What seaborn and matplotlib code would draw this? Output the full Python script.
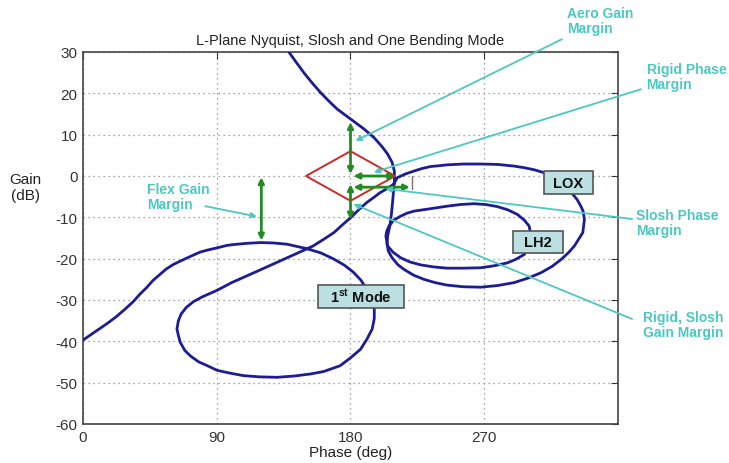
import numpy as np
import pandas as pd
import matplotlib
matplotlib.use("Agg")
import matplotlib.pyplot as plt
from matplotlib.patches import Rectangle, Polygon
import seaborn as sns

# main Nichols curve (rigid + LOX slosh + 1st bending mode)
main_phase = [138.5, 143.5, 148.6, 154, 159.8, 165.5, 171, 180, 189, 195.8, 201, 205, 208, 209.5,
              209.6, 209, 208.4, 207.6, 206.5, 205, 204.6, 205.5, 208, 212, 216, 222.5, 229.4, 237,
              245, 256, 267.7, 279, 290, 299.5, 308.2, 315.5, 321.7, 326.8, 330.7, 334, 336.3, 337.4,
              336.5, 335, 332.5, 329.5, 325, 318, 311, 303.7, 297, 290, 279, 267.7, 256, 245, 240,
              234, 228, 222.7, 217, 211.5, 209, 204, 200, 196, 191, 186, 180, 174, 168.8, 162, 155,
              150.8, 141, 135, 130.6, 120, 110, 100, 90, 80.5, 74.3, 69.5, 66, 64.2, 63.2, 64.2, 65.4,
              68.5, 72.5, 78, 83.1, 90.1, 99, 108, 119, 130.6, 142, 153, 162, 173, 180, 186.8, 191,
              194.6, 196, 196, 194.5, 191, 187, 182, 176, 168.8, 160, 150.8, 146, 137.3, 128, 119.3,
              110, 101, 96.8, 90, 84, 78.9, 72, 65.4, 60.8, 56, 51.8, 47, 42.8, 38, 33.8, 28, 22.5,
              17, 11.3, 5.5, 0]
main_gain = [30, 27.5, 25, 22.6, 20.2, 18.1, 16.2, 13.8, 11.4, 9.3, 7.2, 5.3, 3.3, 1.2,
             -1, -3.5, -6, -9, -12, -14.5, -16.5, -18.2, -19.8, -21.5, -22.6, -24, -25, -25.8,
             -26.4, -26.8, -26.9, -26.5, -25.8, -24.7, -23.4, -21.9, -20.2, -18.5, -16.9, -15, -13.7, -10.5,
             -8.5, -7.3, -5.7, -4.4, -2.2, -0.3, 0.7, 1.5, 2, 2.4, 2.8, 2.9, 2.9, 2.7, 2.5,
             2.3, 1.8, 1.2, 0.5, -0.4, -2, -3.2, -4, -5.1, -6.4, -8, -10.1, -12, -13.7, -15.3, -16.9,
             -17.6, -19.2, -20.2, -20.9, -22.6, -24.2, -25.8, -27.7, -29.2, -30.4, -31.8, -33.4, -35, -37, -38.6, -40.2,
             -42.2, -43.6, -45, -45.8, -47, -47.7, -48.3, -48.6, -48.7, -48.4, -47.9, -47.3, -45.9, -44, -41.9, -39.5,
             -37, -34.5, -32.2, -29.8, -27.4, -25.2, -23.3, -21.6, -20.1, -18.6, -17.6, -17.2, -16.5, -16.2, -16.1,
             -16.3, -16.6, -16.8, -17.4, -17.9, -18.4, -19.5, -20.6, -21.4, -22.5, -23.8, -25.3, -27, -28.7, -30.4, -32.3, -34,
             -35.5, -36.9, -38.3, -39.7]

# LH2 slosh loop
lh2_phase = [206, 209, 213.8, 218, 222.7, 234, 245, 254, 263, 271, 278.8, 286, 292.3, 297, 300.2,
             301.5, 300.5, 296.9, 291, 285.7, 277, 267.7, 256, 245, 236, 227.2, 220, 213.8, 208.5,
             204.9, 203.8, 204.5, 206]
lh2_gain = [-12.1, -10.7, -9.7, -9, -8.5, -7.9, -7.3, -6.9, -6.7, -6.9, -7.4, -8.2, -9.3, -10.7, -12.1,
            -14.5, -17, -19, -20.2, -21, -21.7, -22.2, -22.3, -22.3, -22, -21.5, -20.8, -19.8, -18.4,
            -16.9, -14.5, -13.2, -12.1]

# red stability diamond around (180 deg, 0 dB)
diamond_phase = [150, 180, 210, 180]
diamond_gain = [0, 6, 0, -6]

# green margin arrows: (x0, y0, x1, y1)
margin_arrows = {
    "aero_gain": (180, 0.5, 180, 13),
    "rigid_slosh_gain": (180, -2, 180, -10.5),
    "rigid_phase": (182, 0, 210, 0),
    "slosh_phase": (182, -2.7, 220, -2.7),
    "flex_gain": (120, -0.3, 120, -15.6),
}

# callout texts, text anchor, line start, arrow tip
callouts = [
    ("Aero Gain\nMargin", (325.6, 41.1), (322.3, 33.1), (183.4, 8.5)),
    ("Rigid Phase\nMargin", (379.2, 27.6), (375.5, 21.0), (195.7, 0.9)),
    ("Flex Gain\nMargin", (43.2, -1.5), (82.3, -7.3), (117.0, -9.8)),
    ("Slosh Phase\nMargin", (372.2, -7.7), (369.5, -10.4), (203.6, -3.1)),
    ("Rigid, Slosh\nGain Margin", (376.5, -32.4), (369.5, -34.6), (182.0, -6.8)),
]

# labelled boxes: text, x0, x1, y0, y1
boxes = [
    ("LOX", 310.1, 343.2, -4.4, 1.2),
    ("LH2", 289.2, 322.9, -18.6, -13.3),
    (r"1$^{\mathbf{st}}$ Mode", 158.4, 215.7, -31.9, -26.4),
]

x_ticks = [0, 90, 180, 270]
y_ticks = list(range(-60, 31, 10))

sns.set_style("white")
plt.rcParams['font.family'] = ['Liberation Sans', 'DejaVu Sans']
plt.rcParams['axes.unicode_minus'] = False
plt.rcParams['mathtext.fontset'] = 'custom'
plt.rcParams['mathtext.rm'] = 'Liberation Sans:bold'
plt.rcParams['mathtext.bf'] = 'Liberation Sans:bold'

CURVE = "#1c1c96"
GREEN = "#228b22"
CYAN = "#4cc8c2"

fig = plt.figure(figsize=(7.29, 4.64), dpi=100)
ax = fig.add_axes([83 / 729, 1 - 425 / 464, 535 / 729, 372 / 464])

main_df = pd.DataFrame({"phase": main_phase, "gain": main_gain})
lh2_df = pd.DataFrame({"phase": lh2_phase, "gain": lh2_gain})
sns.lineplot(data=main_df, x="phase", y="gain", sort=False, estimator=None,
             color=CURVE, lw=2, ax=ax, zorder=3)
sns.lineplot(data=lh2_df, x="phase", y="gain", sort=False, estimator=None,
             color=CURVE, lw=2, ax=ax, zorder=3)

ax.add_patch(Polygon(list(zip(diamond_phase, diamond_gain)), closed=True, fill=False,
                     edgecolor="#cc2a2a", lw=1.4, zorder=4))

for x0, y0, x1, y1 in margin_arrows.values():
    ax.annotate("", xy=(x1, y1), xytext=(x0, y0),
                arrowprops=dict(arrowstyle="<|-|>", color=GREEN, lw=2,
                                mutation_scale=8, shrinkA=0, shrinkB=0), zorder=5)
ax.plot([221.5, 221.5], [0, -3.2], color="#777777", lw=1, zorder=4)

for label, txt_xy, start, tip in callouts:
    ax.annotate("", xy=tip, xytext=start, annotation_clip=False,
                arrowprops=dict(arrowstyle="-|>", color=CYAN, lw=1.3,
                                mutation_scale=8, shrinkA=0, shrinkB=0), zorder=6)
    ax.text(txt_xy[0], txt_xy[1], label, color=CYAN, fontsize=10, fontweight="bold",
            ha="left", va="top", linespacing=1.1, clip_on=False)

for label, bx0, bx1, by0, by1 in boxes:
    ax.add_patch(Rectangle((bx0, by0), bx1 - bx0, by1 - by0, facecolor="#bcdfe2",
                           edgecolor="#555555", lw=1.2, zorder=7))
    ax.text((bx0 + bx1) / 2, (by0 + by1) / 2, label, ha="center", va="center",
            fontsize=10.5, fontweight="bold", color="#111111", zorder=8)

ax.set_xlim(0, 360)
ax.set_ylim(-60, 30)
ax.set_xticks(x_ticks)
ax.set_yticks(y_ticks)
ax.grid(True, color="#888888", linestyle=(0, (1, 3)), lw=0.9)
ax.tick_params(direction="in", length=5, top=True, right=True, labelsize=11,
               colors="#333333", pad=4)
for s in ax.spines.values():
    s.set_color("#444444")
    s.set_linewidth(1.2)

ax.set_title("L-Plane Nyquist, Slosh and One Bending Mode", fontsize=10.5, color="#222222", pad=6)
ax.set_xlabel("Phase (deg)", fontsize=11, color="#222222", labelpad=1)
ax.set_ylabel("")
ax.text(-0.107, 0.637, "Gain\n(dB)", transform=ax.transAxes, ha="center", va="center",
        fontsize=11, color="#222222")

fig.savefig("out.png", dpi=100)
